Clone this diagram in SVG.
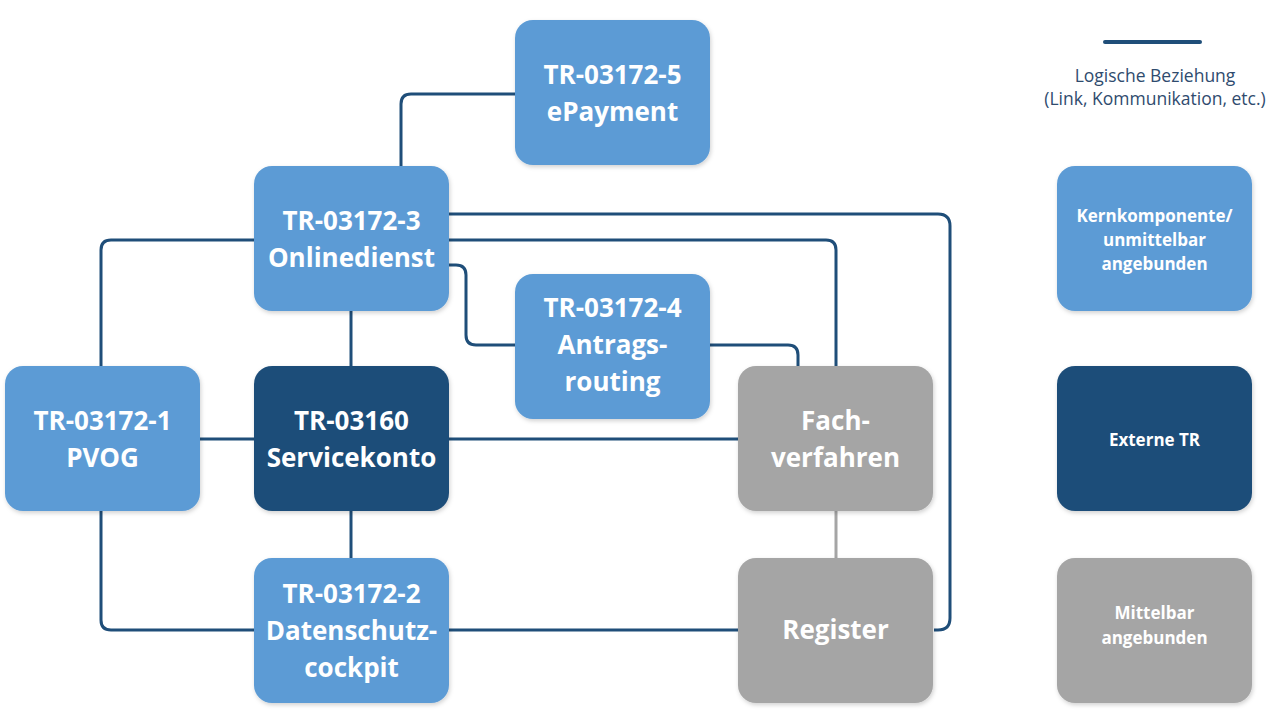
<svg xmlns="http://www.w3.org/2000/svg" width="1282" height="712" viewBox="0 0 1282 712">
<defs>
<filter id="sh" x="-10%" y="-10%" width="125%" height="125%">
<feDropShadow dx="1" dy="2" stdDeviation="2" flood-color="#000" flood-opacity="0.18"/>
</filter>
<style>
.box{filter:url(#sh)}
.core{fill:#5B9BD5}
.ext{fill:#1F4E79}
.mid{fill:#A5A5A5}
.t{font-family:"Open Sans","Liberation Sans",sans-serif;font-weight:bold;font-size:26px;fill:#fff;text-anchor:middle}
.ts{font-family:"Open Sans","Liberation Sans",sans-serif;font-weight:bold;font-size:17px;fill:#fff;text-anchor:middle}
.lg{font-family:"Open Sans","Liberation Sans",sans-serif;font-size:17.5px;fill:#2F4B6E;text-anchor:middle}
.c{fill:none;stroke:#1F4E79;stroke-width:3}
.cg{fill:none;stroke:#A5A5A5;stroke-width:3}
</style>
</defs>
<rect width="1282" height="712" fill="#fff"/>
<g id="connectors">
<path class="c" d="M401,166 V104 Q401,94 411,94 H515"/>
<path class="c" d="M449,214 H938 Q950,214 950,226 V618 Q950,630 938,630 H934"/>
<path class="c" d="M449,240 H826 Q836,240 836,250 V366"/>
<path class="c" d="M449,265 H456 Q466,265 466,275 V335 Q466,345 476,345 H515"/>
<path class="c" d="M710,345 H788 Q798,345 798,355 V366"/>
<path class="c" d="M254,240 H111 Q101,240 101,250 V366"/>
<path class="c" d="M351,311 V366"/>
<path class="c" d="M200,439 H254"/>
<path class="c" d="M449,439 H738"/>
<path class="c" d="M351,511 V558"/>
<path class="c" d="M101,511 V620 Q101,630 111,630 H254"/>
<path class="c" d="M449,630 H738"/>
<path class="cg" d="M836,511 V558"/>
</g>
<g id="epayment"><rect class="box core" x="515" y="20" width="195" height="145" rx="18"/><text class="t" x="612.5" y="84">TR-03172-5</text><text class="t" x="612.5" y="121">ePayment</text></g>
<g id="onlinedienst"><rect class="box core" x="254" y="166" width="195" height="145" rx="18"/><text class="t" x="351.5" y="230">TR-03172-3</text><text class="t" x="351.5" y="267">Onlinedienst</text></g>
<g id="antragsrouting"><rect class="box core" x="515" y="274" width="195" height="145" rx="18"/><text class="t" x="612.5" y="317">TR-03172-4</text><text class="t" x="612.5" y="354">Antrags-</text><text class="t" x="612.5" y="391">routing</text></g>
<g id="pvog"><rect class="box core" x="5" y="366" width="195" height="145" rx="18"/><text class="t" x="102.5" y="430">TR-03172-1</text><text class="t" x="102.5" y="467">PVOG</text></g>
<g id="servicekonto"><rect class="box ext" x="254" y="366" width="195" height="145" rx="18"/><text class="t" x="351.5" y="430">TR-03160</text><text class="t" x="351.5" y="467">Servicekonto</text></g>
<g id="fachverfahren"><rect class="box mid" x="738" y="366" width="195" height="145" rx="18"/><text class="t" x="835.5" y="430">Fach-</text><text class="t" x="835.5" y="467">verfahren</text></g>
<g id="datenschutzcockpit"><rect class="box core" x="254" y="558" width="195" height="145" rx="18"/><text class="t" x="351.5" y="603">TR-03172-2</text><text class="t" x="351.5" y="640">Datenschutz-</text><text class="t" x="351.5" y="677">cockpit</text></g>
<g id="register"><rect class="box mid" x="738" y="558" width="195" height="145" rx="18"/><text class="t" x="835.5" y="639">Register</text></g>
<g id="legend">
<path d="M1105,42 H1200" stroke="#1F4E79" stroke-width="4" stroke-linecap="round" fill="none"/>
<text class="lg" x="1155" y="82">Logische Beziehung</text>
<text class="lg" x="1155" y="105">(Link, Kommunikation, etc.)</text>
<g id="legend-kern"><rect class="box core" x="1057" y="166" width="195" height="145" rx="18"/><text class="ts" x="1154.5" y="222">Kernkomponente/</text><text class="ts" x="1154.5" y="246">unmittelbar</text><text class="ts" x="1154.5" y="270">angebunden</text></g>
<g id="legend-ext"><rect class="box ext" x="1057" y="366" width="195" height="145" rx="18"/><text class="ts" x="1154.5" y="446">Externe TR</text></g>
<g id="legend-mid"><rect class="box mid" x="1057" y="558" width="195" height="145" rx="18"/><text class="ts" x="1154.5" y="619">Mittelbar</text><text class="ts" x="1154.5" y="644">angebunden</text></g>
</g>
</svg>
